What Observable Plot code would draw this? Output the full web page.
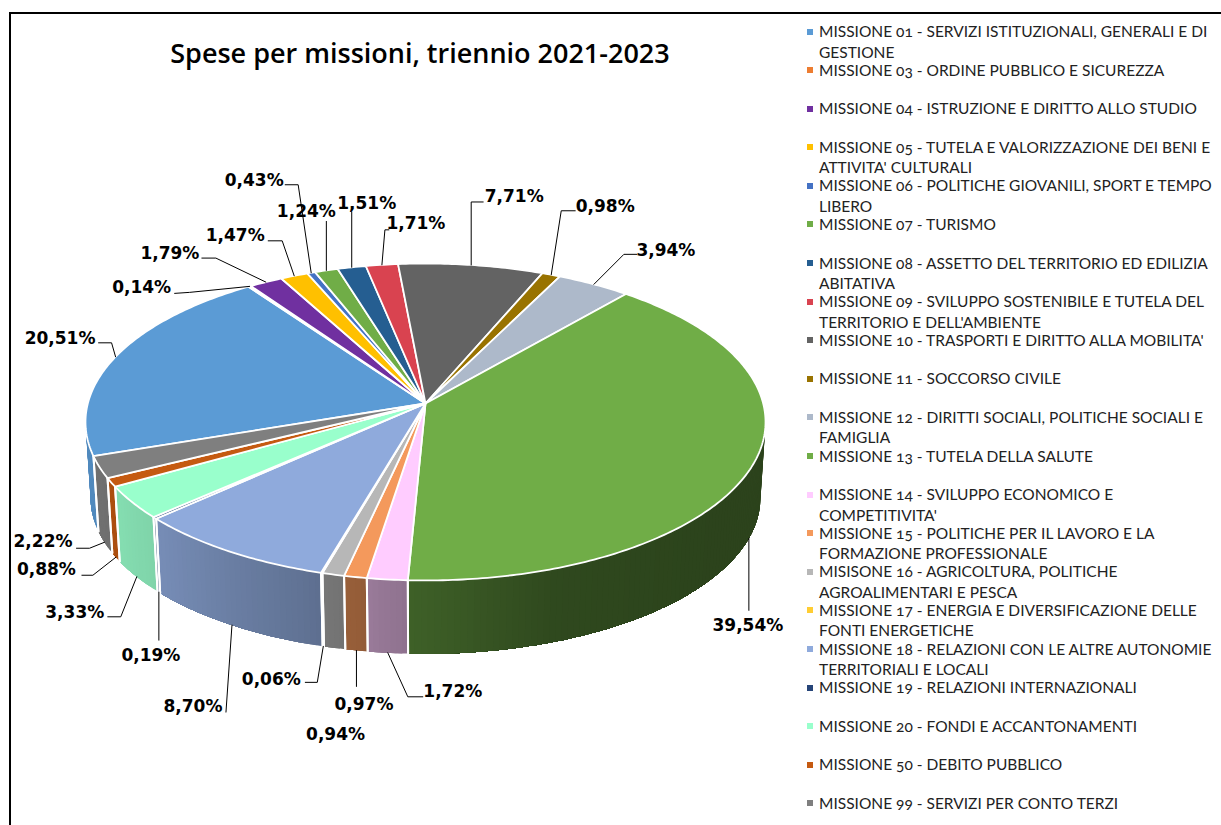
<!DOCTYPE html>
<html lang="it">
<head>
<meta charset="utf-8">
<script src="https://cdn.jsdelivr.net/npm/d3@7"></script>
<script src="https://cdn.jsdelivr.net/npm/@observablehq/plot@0.6"></script>
<style>
html,body{margin:0;padding:0;background:#fff;overflow:hidden}
#page{position:relative;width:1221px;height:825px;overflow:hidden}
#frame{position:absolute;left:9px;top:12px;right:-4px;bottom:-4px;border-left:2px solid #000;border-top:2px solid #000}
#title{position:absolute;left:150px;top:34px;width:540px;font:600 27px "Open Sans",sans-serif;white-space:nowrap;color:#000;text-align:center}
#legend{position:absolute;left:805px;top:21px;width:416px}
.item{position:relative;height:38.6px;padding-left:14px;font:15.5px/20.5px Lato,sans-serif;color:#222;white-space:pre;font-variant-numeric:oldstyle-nums}
.item i{position:absolute;left:2px;top:7.5px;width:6px;height:6px}
#chart{position:absolute;left:0;top:0}
</style>
</head>
<body>
<div id="page">
  <div id="chart"></div>
  <div id="frame"></div>
  <div id="title"></div>
  <div id="legend"></div>
</div>
<script>
const chartTitle = "Spese per missioni, triennio 2021-2023";
const missions = [
  "MISSIONE 01 - SERVIZI ISTITUZIONALI, GENERALI E DI\nGESTIONE",
  "MISSIONE 03 - ORDINE PUBBLICO E SICUREZZA",
  "MISSIONE 04 - ISTRUZIONE E DIRITTO ALLO STUDIO",
  "MISSIONE 05 - TUTELA E VALORIZZAZIONE DEI BENI E\nATTIVITA' CULTURALI",
  "MISSIONE 06 - POLITICHE GIOVANILI, SPORT E TEMPO\nLIBERO",
  "MISSIONE 07 - TURISMO",
  "MISSIONE 08 - ASSETTO DEL TERRITORIO ED EDILIZIA\nABITATIVA",
  "MISSIONE 09 - SVILUPPO SOSTENIBILE E TUTELA DEL\nTERRITORIO E DELL'AMBIENTE",
  "MISSIONE 10 - TRASPORTI E DIRITTO ALLA MOBILITA'",
  "MISSIONE 11 - SOCCORSO CIVILE",
  "MISSIONE 12 - DIRITTI SOCIALI, POLITICHE SOCIALI E\nFAMIGLIA",
  "MISSIONE 13 - TUTELA DELLA SALUTE",
  "MISSIONE 14 - SVILUPPO ECONOMICO E\nCOMPETITIVITA'",
  "MISSIONE 15 - POLITICHE PER IL LAVORO E LA\nFORMAZIONE PROFESSIONALE",
  "MISISONE 16 - AGRICOLTURA, POLITICHE\nAGROALIMENTARI E PESCA",
  "MISSIONE 17 - ENERGIA E DIVERSIFICAZIONE DELLE\nFONTI ENERGETICHE",
  "MISSIONE 18 - RELAZIONI CON LE ALTRE AUTONOMIE\nTERRITORIALI E LOCALI",
  "MISSIONE 19 - RELAZIONI INTERNAZIONALI",
  "MISSIONE 20 - FONDI E ACCANTONAMENTI",
  "MISSIONE 50 - DEBITO PUBBLICO",
  "MISSIONE 99 - SERVIZI PER CONTO TERZI"
];
const shares = [20.51,0.14,1.79,1.47,0.43,1.24,1.51,1.71,7.71,0.98,3.94,39.54,1.72,0.97,0.94,0.06,8.70,0.19,3.33,0.88,2.22];
const sliceColors = ["#5b9bd5","#ed7d31","#7030a0","#ffc000","#4472c4","#70ad47","#255e91","#d94350","#636363","#997300","#adb9ca","#70ad47","#ffccff","#f4995c","#b7b7b7","#ffcd33","#8faadc","#264478","#99ffcc","#c55a11","#7f7f7f"];

// Label placement relative to each slice's rim anchor: leader bends, then text centre.
const leaderBends = [
  [[-4,-14],[-17,-14]],[[-60,6],[-75,7]],[[-50,-24],[-64,-24]],[[-12,-35],[-26,-35]],[[-13,-88],[-26,-88]],
  [[0,-49]],[[0,-55]],[[3,-35],[7,-35]],[[0,-63],[12,-63]],[[10,-64],[24,-64]],[[30,-30],[43,-30]],
  [[0,72]],[[20,44],[35,44]],[[0,36]],null,[[-6,36],[-18,36]],[[-6,87]],[[0,48]],[[-16,40],[-29,40]],[[-23,18],[-34,18]],[[-15,6],[-28,6]]
];
const labelOffsets = [
  [-55.5,-18],[-108,1],[-96,-29],[-59,-40],[-57,-92],[-20,-59],[15,-64],[34,-41],[43,-68],[54,-68],[72,-34],
  [-1,87],[65,39],[7.5,54],[1,87],[-52,33],[-39,81],[-8,63],[-62,36],[-69.5,12],[-61.5,-1]
];

// Camera: a perspective view of a flat disc, then the same rim dropped for the wall.
const view = {cx:425, cy:403, rx:337.7, ry:156.3, k:0.1167, drop:76, shrink:0.985, startDeg:-108.9};
const deg = Math.PI/180;
function rim(theta, lower=false){
  const u = Math.sin(theta*deg), v = -Math.cos(theta*deg), w = 1 - view.k*v;
  const s = lower ? view.shrink : 1;
  return {x: view.cx + s*view.rx*u/w, y: view.cy + s*view.ry*v/w + (lower ? view.drop : 0)};
}
const total = d3.sum(shares);
const cum = d3.cumsum(shares);
const slices = shares.map((v,i)=>({
  i, a0: view.startDeg + 360*(cum[i]-v)/total, a1: view.startDeg + 360*cum[i]/total
}));
function arcAngles(a0,a1,step=0.75){
  const n = Math.max(1, Math.ceil((a1-a0)/step));
  return d3.range(n+1).map(j=>a0+(a1-a0)*j/n);
}
const topRows = slices.flatMap(s=>{
  const apex = {x:view.cx,y:view.cy};
  return [apex,...arcAngles(s.a0,s.a1).map(t=>rim(t)),apex].map(p=>({...p,id:s.i,fill:sliceColors[s.i]}));
});
// Shade of the outer wall by angle round the pie. Each band runs on to the slice's
// far end and the next band paints over it, so no seams show between bands.
const shade = d3.scaleLinear().domain([96,130,160,183,200,225,240,264]).range([.39,.39,.42,.56,.68,.82,.87,.9]);
const visA = 90 + Math.asin(view.k)/deg, visB = 270 - Math.asin(view.k)/deg;
const wallRows = [], seams = [];
slices.forEach(s=>{
  [[s.a0,s.a1],[s.a0+360,s.a1+360]].forEach(([a,b])=>{
    const lo = Math.max(a,visA), hi = Math.min(b,visB);
    if (hi<=lo) return;
    const ts = arcAngles(lo,hi,1);
    ts.slice(0,-1).forEach((t0,j)=>{
      const base = d3.rgb(sliceColors[s.i]), f = shade((t0+ts[j+1])/2);
      const fill = d3.rgb(base.r*f,base.g*f,base.b*f).formatHex();
      const id = `${s.i}-${j}`;
      const band = ts.slice(j);
      [...band.map(t=>rim(t)),...band.slice().reverse().map(t=>rim(t,true))].forEach(p=>wallRows.push({...p,id,fill}));
    });
    [lo,hi].forEach((t,n)=>{
      if (t===visA||t===visB) return;
      [rim(t),rim(t,true)].forEach(p=>seams.push({...p,id:`${s.i}-${n}`}));
    });
  });
});
const fmt = v=>v.toFixed(2).replace(".",",")+"%";
const leaderRows = [], labelRows = [];
slices.forEach(s=>{
  const mid = (s.a0+s.a1)/2, norm = ((mid%360)+360)%360;
  const front = norm>visA && norm<visB;
  const a = rim(mid,front);
  const L = labelOffsets[s.i];
  labelRows.push({x:a.x+L[0],y:a.y+L[1],text:fmt(shares[s.i])});
  const bends = leaderBends[s.i];
  if (bends) [[0,0],...bends].forEach(b=>leaderRows.push({x:a.x+b[0],y:a.y+b[1],id:s.i}));
});

const plot = Plot.plot({
  width:1221,height:825,margin:0,
  x:{domain:[0,1221],range:[0,1221],axis:null},
  y:{domain:[0,825],range:[0,825],axis:null},
  color:{type:"identity"},
  marks:[
    Plot.line(wallRows,{x:"x",y:"y",z:"id",fill:"fill",stroke:"none"}),
    Plot.line(seams,{x:"x",y:"y",z:"id",stroke:"#fff",strokeWidth:2}),
    Plot.line(topRows,{x:"x",y:"y",z:"id",fill:"fill",stroke:"#fff",strokeWidth:1.8,strokeLinejoin:"round"}),
    Plot.line(leaderRows,{x:"x",y:"y",z:"id",stroke:"#000",strokeWidth:1,strokeLinejoin:"miter"}),
    Plot.text(labelRows,{x:"x",y:"y",text:"text",fill:"#000",fontFamily:"DejaVu Sans",fontWeight:"bold",fontSize:17,textAnchor:"middle"})
  ]
});
document.getElementById("chart").append(plot);
document.getElementById("title").textContent = chartTitle;
const legend = d3.select("#legend");
missions.forEach((m,i)=>{
  const it = legend.append("div").attr("class","item");
  it.append("i").style("background",sliceColors[i]);
  it.append("span").text(m);
});
</script>
</body>
</html>
